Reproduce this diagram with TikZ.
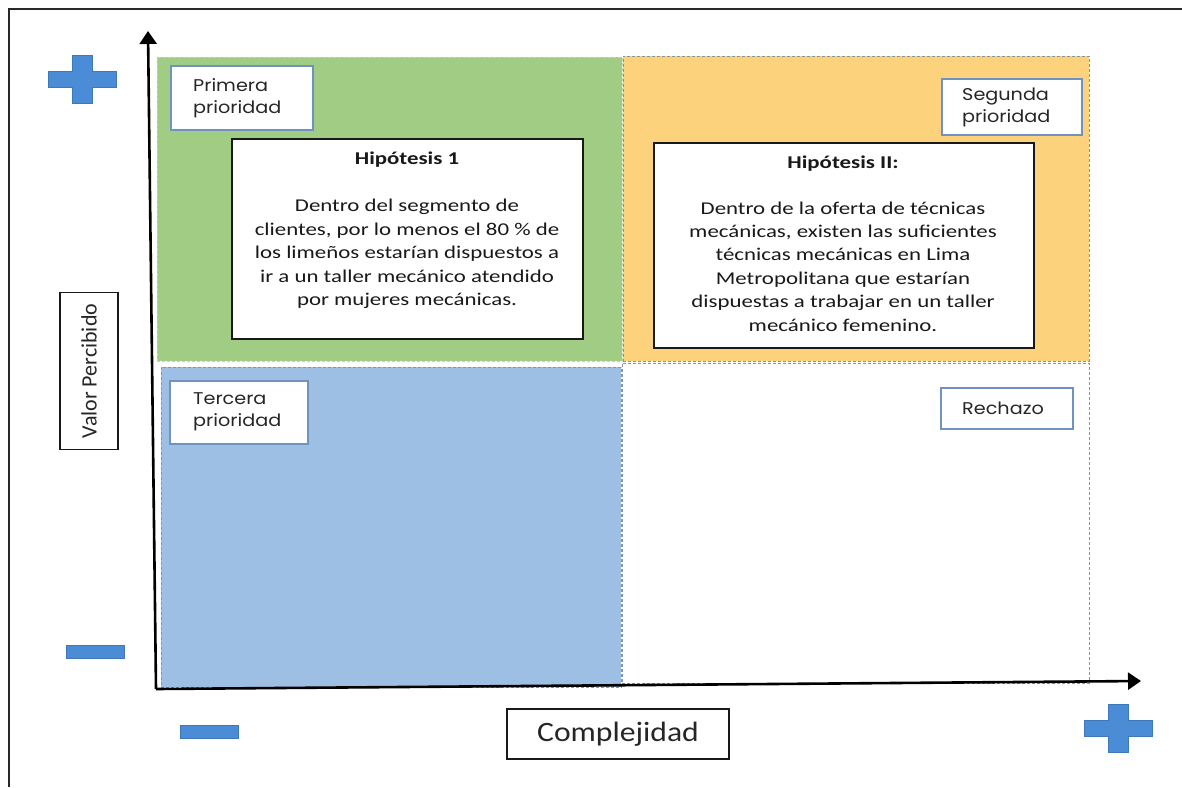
\documentclass[tikz,border=0pt]{standalone}
\usepackage{fontspec}
\setmainfont{Carlito}
\newfontfamily\tagfont{Poppins}
\usetikzlibrary{arrows.meta}

\definecolor{quadgreen}{RGB}{161,204,132}
\definecolor{quadorange}{RGB}{252,211,124}
\definecolor{quadblue}{RGB}{158,191,228}
\definecolor{signblue}{RGB}{74,141,214}
\definecolor{tagedge}{RGB}{112,146,192}
\definecolor{dashedge}{RGB}{128,148,172}
\definecolor{framegray}{RGB}{40,40,40}

\begin{document}
\begin{tikzpicture}[x=1pt,y=-1pt,
  quad/.style={anchor=north west, inner sep=0pt, outer sep=0pt,
    draw=dashedge, line width=1pt, dash pattern=on 3pt off 2pt},
  tagbox/.style={draw=tagedge, fill=white, line width=1.6pt, inner sep=0pt,
    anchor=north west},
  tagtext/.style={anchor=north west, inner sep=0pt, align=left, xscale=1.13,
    font=\tagfont\fontsize{17}{22}\selectfont, text=black!85},
  hypbox/.style={draw=black!90, fill=white, line width=2.4pt, inner sep=0pt},
  hyptitle/.style={font=\bfseries\fontsize{18}{22}\selectfont, xscale=1.27,
    text=black!90},
  hypbody/.style={font=\fontsize{18}{23.4}\selectfont, align=center,
    xscale=1.27, text=black!90},
  axisbox/.style={draw=black!90, fill=white, line width=1.8pt, inner sep=0pt},
  axis/.style={line width=2.6pt, black, -{Triangle[length=13pt,width=17pt]}},
  sign/.style={fill=signblue, draw=signblue!85!black, line width=0.6pt},
  plus/.pic={\fill[sign] (-34,-8) -- (-10,-8) -- (-10,-24) -- (10,-24)
    -- (10,-8) -- (34,-8) -- (34,8) -- (10,8) -- (10,24) -- (-10,24)
    -- (-10,8) -- (-34,8) -- cycle;},
  minus/.pic={\fill[sign] (-29,-6.5) rectangle (29,6.5);}
]
\useasboundingbox (0,0) rectangle (1182,787);

% outer frame
\draw[framegray, line width=1.6pt] (9,787) -- (9,9) -- (1182,9);

% quadrants
\node[quad, fill=quadgreen, draw=quadgreen!70!white,
      minimum width=465pt, minimum height=304pt] (q1) at (157,57) {};
\node[quad, fill=quadorange, minimum width=466pt, minimum height=305pt]
      (q2) at (623,56) {};
\node[quad, fill=quadblue, draw=quadblue!80!black,
      minimum width=460pt, minimum height=320pt] (q3) at (161,367) {};
\node[quad, fill=white, minimum width=467pt, minimum height=320pt]
      (q4) at (622,363) {};

% quadrant tags
\node[tagbox, minimum width=142pt, minimum height=64pt] (t1) at (170,65) {};
\node[tagtext] (t1x) at (193,78) {Primera\\prioridad};
\node[tagbox, minimum width=140pt, minimum height=56pt] (t2) at (941,78) {};
\node[tagtext] (t2x) at (962,88) {Segunda\\prioridad};
\node[tagbox, minimum width=138pt, minimum height=63pt] (t3) at (169,380) {};
\node[tagtext] (t3x) at (193,392) {Tercera\\prioridad};
\node[tagbox, minimum width=132pt, minimum height=41pt] (t4) at (940,387) {};
\node[tagtext, anchor=center] (t4x) at (1003,408) {Rechazo};

% hypothesis boxes
\node[hypbox, minimum width=351pt, minimum height=200pt] (h1) at (407.5,239) {};
\node[hyptitle] (h1t) at (407,160) {Hipótesis 1};
\node[hypbody] (h1b) at (407,254) {Dentro del segmento de\\
  clientes, por lo menos el 80 \% de\\
  los limeños estarían dispuestos a\\
  ir a un taller mecánico atendido\\
  por mujeres mecánicas.};

\node[hypbox, minimum width=380pt, minimum height=205pt] (h2) at (844,245.5) {};
\node[hyptitle] (h2t) at (843,164) {Hipótesis II:};
\node[hypbody] (h2b) at (843,266.5) {Dentro de la oferta de técnicas\\
  mecánicas, existen las suficientes\\
  técnicas mecánicas en Lima\\
  Metropolitana que estarían\\
  dispuestas a trabajar en un taller\\
  mecánico femenino.};

% axes
\coordinate (o) at (156,689);
\coordinate (ytip) at (148,31);
\coordinate (xtip) at (1141,681);
\draw[axis] (o) -- (ytip);
\draw[axis] (o) -- (xtip);

% axis titles
\node[axisbox, minimum width=58pt, minimum height=157pt] (vp) at (89,371) {};
\node[rotate=90, inner sep=0pt, font=\fontsize{22}{26}\selectfont,
      text=black!85] (vpx) at (vp.center) {Valor Percibido};
\node[axisbox, minimum width=222pt, minimum height=50pt] (cx) at (618,734) {};
\node[inner sep=0pt, xscale=1.13, font=\fontsize{28}{32}\selectfont,
      text=black!85] (cxx) at (cx.center) {Complejidad};

% plus and minus signs
\pic at (82.5,79) {plus};
\pic at (1118,728) {plus};
\pic at (95,652) {minus};
\pic at (209.5,731.5) {minus};
\end{tikzpicture}
\end{document}
